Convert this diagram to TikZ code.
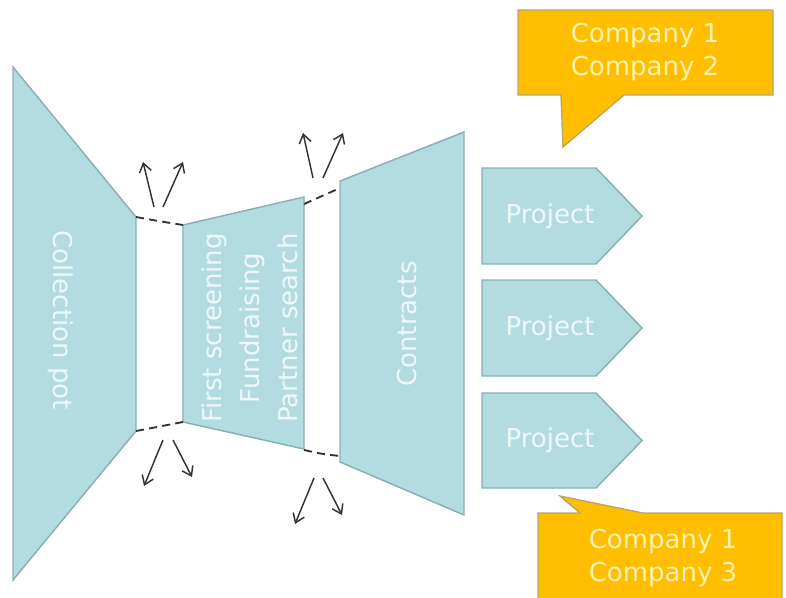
\documentclass[tikz,border=0pt]{standalone}
\usepackage{fontspec}
\setmainfont{DejaVu Sans}
\usetikzlibrary{arrows.meta}

\definecolor{stagefill}{HTML}{B3DCE0}
\definecolor{stageline}{HTML}{8AAFB3}
\definecolor{stagetext}{HTML}{EEF8F9}
\definecolor{goldfill}{HTML}{FFBE00}
\definecolor{goldline}{HTML}{B9A46A}
\definecolor{goldtext}{HTML}{FFF3B2}
\definecolor{leak}{HTML}{333333}

\tikzset{
    stagebox/.style={fill=stagefill, draw=stageline, line width=1.1pt, line join=miter},
    callout/.style={fill=goldfill, draw=goldline, line width=1pt},
    stagelabel/.style={text=stagetext, font=\fontsize{19.5}{28.5}\selectfont, align=center, inner sep=0pt},
    companylabel/.style={text=goldtext, font=\fontsize{19.5}{25}\selectfont, align=center, inner sep=0pt},
    gap/.style={leak, line width=1.4pt, dash pattern=on 6pt off 4pt},
    leakarrow/.style={leak, line width=1.1pt, -{Straight Barb[length=6.5pt, width=9pt]}}
}

\begin{document}
\begin{tikzpicture}[x=0.75pt, y=-0.75pt]
                \useasboundingbox (0, 0) rectangle (786, 597);

                % funnel stages
                \draw[stagebox] (13, 67) coordinate (pot-tl) -- (136, 217) coordinate (pot-tr)
                    -- (136, 431) coordinate (pot-br) -- (13, 580) coordinate (pot-bl) -- cycle;
                \draw[stagebox] (183, 225) coordinate (scr-tl) -- (304, 197) coordinate (scr-tr)
                    -- (304, 449) coordinate (scr-br) -- (183, 422) coordinate (scr-bl) -- cycle;
                \draw[stagebox] (340, 181) coordinate (con-tl) -- (464, 132) coordinate (con-tr)
                    -- (464, 515) coordinate (con-br) -- (340, 462) coordinate (con-bl) -- cycle;

                \node[stagelabel, rotate=-90] (pot) at (61, 320) {Collection pot};
                \node[stagelabel, rotate=90] (screen) at (250, 328) {First screening\\Fundraising\\Partner search};
                \node[stagelabel, rotate=90] (contracts) at (407, 324) {Contracts};

                % gaps between the stages
                \coordinate (scr-tr2) at (304, 204);
                \coordinate (con-tl2) at (340, 188);
                \coordinate (scr-br2) at (304, 450);
                \coordinate (con-bl2) at (340, 456);
                \draw[gap] (pot-tr) .. controls (158, 221) .. (scr-tl);
                \draw[gap] (scr-tr2) .. controls (322, 196) .. (con-tl2);
                \draw[gap] (pot-br) .. controls (160, 426) .. (scr-bl);
                \draw[gap] (scr-br2) .. controls (322, 454) .. (con-bl2);

                % leaks
                \draw[leakarrow] (154, 207) coordinate (up1a) -- (143, 162);
                \draw[leakarrow] (163, 207) coordinate (up1b) -- (183, 162);
                \draw[leakarrow] (313, 178) coordinate (up2a) -- (303, 133);
                \draw[leakarrow] (323, 178) coordinate (up2b) -- (343, 133);
                \draw[leakarrow] (163, 440) coordinate (dn1a) -- (144, 486);
                \draw[leakarrow] (173, 440) coordinate (dn1b) -- (192, 477);
                \draw[leakarrow] (314, 478) coordinate (dn2a) -- (295, 524);
                \draw[leakarrow] (323, 478) coordinate (dn2b) -- (342, 515);

                % projects
                \foreach \i/\t/\b in {1/168/264, 2/280/376, 3/393/488} {
                    \draw[stagebox] (482, \t) -- (596, \t) -- (642, {(\t+\b)/2}) -- (596, \b) -- (482, \b) -- cycle;
                    \node[stagelabel] (proj\i) at (550, {(\t+\b)/2}) {Project};
                }

                % partners
                \draw[callout] (518, 10) -- (773, 10) -- (773, 95) -- (624, 95) -- (563, 147)
                    -- (561, 95) -- (518, 95) -- cycle;
                \node[companylabel] (partners12) at (645, 52) {Company 1\\Company 2};

                \draw[callout] (538, 513) -- (580, 513) -- (560, 496) -- (643, 513) -- (782, 513)
                    -- (782, 610) -- (538, 610) -- cycle;
                \node[companylabel] (partners13) at (663, 558) {Company 1\\Company 3};
\end{tikzpicture}
\end{document}
